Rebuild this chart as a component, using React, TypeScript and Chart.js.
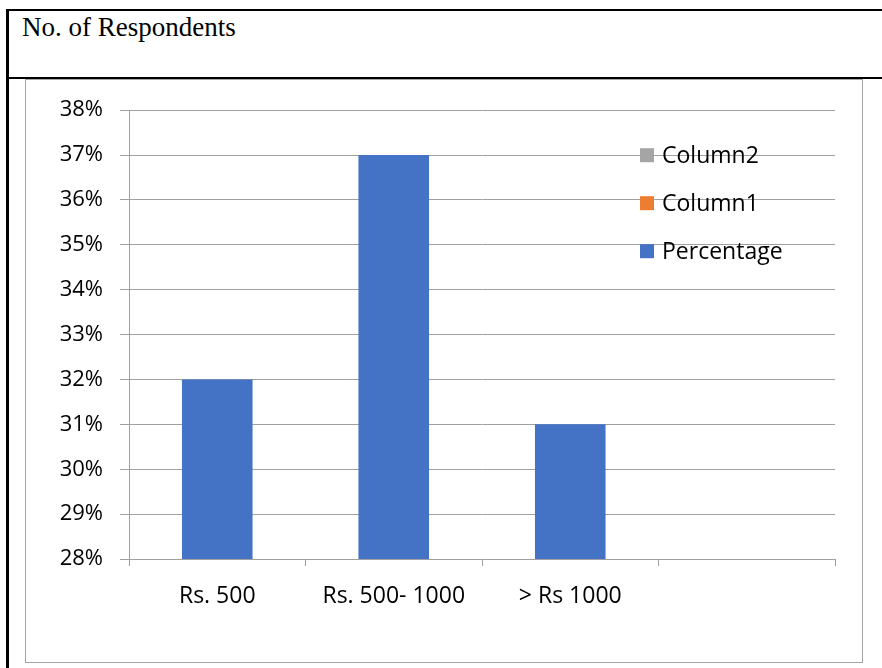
import React, { useEffect, useRef } from "react";
import { Chart, registerables } from "chart.js";

Chart.register(...registerables);

const titleText = "No. of Respondents";
const categories = ["Rs. 500", "Rs. 500- 1000", "> Rs 1000", ""];
const percentageValues = [32, 37, 31, null];
const column1Values = [null, null, null, null];
const column2Values = [null, null, null, null];
const seriesNames = ["Percentage", "Column1", "Column2"];
const seriesColors = ["#4472C4", "#ED7D31", "#A5A5A5"];
const yMin = 28;
const yMax = 38;
const yStep = 1;

const GRID = "#a0a0a0";
const FONT = "'Open Sans', sans-serif";

const legendPlugin = {
  id: "insideLegend",
  afterDraw(chart: any) {
    const { ctx, chartArea } = chart;
    const ds = chart.data.datasets.slice().reverse();
    const x0 = chartArea.right - 195;
    ctx.save();
    ctx.font = `23px ${FONT}`;
    ctx.textBaseline = "middle";
    ctx.textAlign = "left";
    ds.forEach((d: any, i: number) => {
      const cy = chartArea.top + 45 + i * 48;
      ctx.fillStyle = d.backgroundColor;
      ctx.fillRect(x0, cy - 7, 14, 14);
      ctx.fillStyle = "#000";
      ctx.fillText(d.label, x0 + 22, cy + 1);
    });
    ctx.restore();
  },
};

export default function App() {
  const ref = useRef<HTMLCanvasElement>(null);
  useEffect(() => {
    if (!ref.current) return;
    const chart = new Chart(ref.current, {
      type: "bar",
      data: {
        labels: categories,
        datasets: [
          { label: seriesNames[0], data: percentageValues, backgroundColor: seriesColors[0] },
          { label: seriesNames[1], data: column1Values, backgroundColor: seriesColors[1] },
          { label: seriesNames[2], data: column2Values, backgroundColor: seriesColors[2] },
        ],
      },
      options: {
        responsive: false,
        animation: false,
        devicePixelRatio: 1,
        layout: { padding: { left: 0, top: 29, right: 27, bottom: 0 } },
        datasets: { bar: { barPercentage: 1, categoryPercentage: 0.4 } },
        plugins: { legend: { display: false }, tooltip: { enabled: false } },
        scales: {
          x: {
            stacked: true,
            offset: true,
            grid: { display: true, drawOnChartArea: false, offset: true, color: GRID, tickLength: 7 },
            border: { color: GRID },
            ticks: { color: "#000", font: { family: FONT, size: 23 }, padding: 17, maxRotation: 0 },
            afterFit: (s: any) => { s.height = 103; },
          },
          y: {
            min: yMin,
            max: yMax,
            ticks: {
              stepSize: yStep,
              color: "#000",
              font: { family: FONT, size: 22 },
              padding: 17,
              callback: (v: any) => `${v}%`,
            },
            grid: { color: GRID, tickLength: 9 },
            border: { color: GRID },
            afterFit: (s: any) => { s.width = 103; },
          },
        },
      },
      plugins: [legendPlugin],
    });
    return () => chart.destroy();
  }, []);

  return (
    <div style={{ position: "fixed", left: 0, top: 0, width: 882, height: 668, background: "#fff", overflow: "hidden" }}>
      <div style={{ position: "absolute", left: 6, top: 9, width: 876, height: 2, background: "#000" }} />
      <div style={{ position: "absolute", left: 6, top: 9, width: 3, height: 659, background: "#000" }} />
      <div style={{ position: "absolute", left: 6, top: 77, width: 876, height: 2, background: "#000" }} />
      <div
        style={{
          position: "absolute",
          left: 22,
          top: 12,
          fontFamily: "'Liberation Serif', 'Times New Roman', serif",
          fontSize: 27,
          color: "#000",
          whiteSpace: "nowrap",
        }}
      >
        {titleText}
      </div>
      <div
        style={{
          position: "absolute",
          left: 25,
          top: 79,
          width: 836,
          height: 582,
          border: "1px solid #a6a6a6",
          background: "#fff",
        }}
      >
        <canvas ref={ref} width={836} height={582} style={{ display: "block" }} />
      </div>
    </div>
  );
}
